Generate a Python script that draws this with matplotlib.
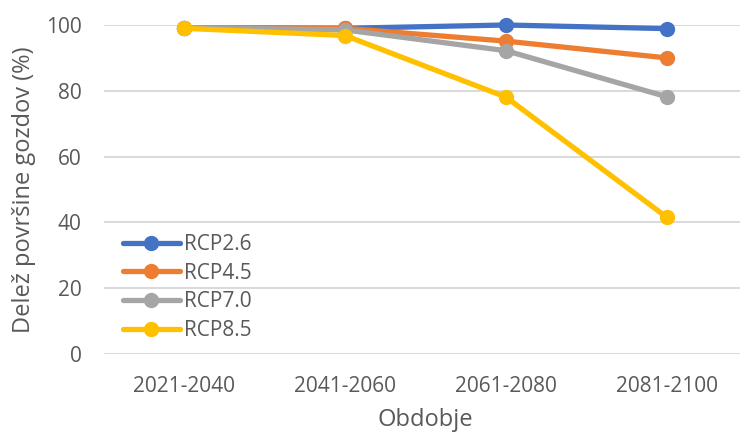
import matplotlib
matplotlib.use("Agg")
import matplotlib.pyplot as plt

periods = ["2021-2040", "2041-2060", "2061-2080", "2081-2100"]
rcp26 = [99.2, 99.0, 100.0, 98.9]
rcp45 = [99.2, 99.0, 95.1, 90.0]
rcp70 = [99.2, 98.5, 92.2, 78.2]
rcp85 = [99.0, 96.8, 78.1, 41.6]

series = [
    ("RCP2.6", rcp26, "#4472C4"),
    ("RCP4.5", rcp45, "#ED7D31"),
    ("RCP7.0", rcp70, "#A5A5A5"),
    ("RCP8.5", rcp85, "#FFC000"),
]

plt.rcParams["font.family"] = ["Open Sans", "DejaVu Sans"]
text_color = "#595959"

fig = plt.figure(figsize=(7.4, 4.34), dpi=100)
ax = fig.add_axes([104 / 740, 1 - 354 / 434, 643 / 740, 329 / 434])

x = list(range(len(periods)))
for name, values, color in series:
    ax.plot(x, values, color=color, linewidth=3.8, marker="o",
            markersize=10, label=name, clip_on=False, solid_capstyle="round")

ax.set_xlim(-0.5, len(periods) - 0.5)
ax.set_ylim(0, 100)
ax.set_yticks(range(0, 101, 20))
ax.set_xticks(x)
ax.set_xticklabels(periods)
ax.grid(axis="y", color="#D9D9D9", linewidth=1.4)
ax.set_axisbelow(True)
for side in ["top", "right", "left", "bottom"]:
    ax.spines[side].set_visible(False)
ax.tick_params(length=0, colors=text_color, labelsize=15)
ax.tick_params(axis="x", pad=16)
ax.tick_params(axis="y", pad=16)

ax.set_xlabel("Obdobje", fontsize=17, color=text_color)
ax.set_ylabel("Delež površine gozdov (%)", fontsize=17, color=text_color)
ax.xaxis.set_label_coords(0.5, -0.164)
ax.yaxis.set_label_coords(-0.106, 0.5)

leg = ax.legend(loc="upper left", bbox_to_anchor=(0.03, 0.365), frameon=False,
                fontsize=15, handlelength=2.7, handletextpad=0.2,
                labelspacing=0.37, borderaxespad=0, borderpad=0)
for t in leg.get_texts():
    t.set_color(text_color)

fig.savefig("out.png", dpi=100)
